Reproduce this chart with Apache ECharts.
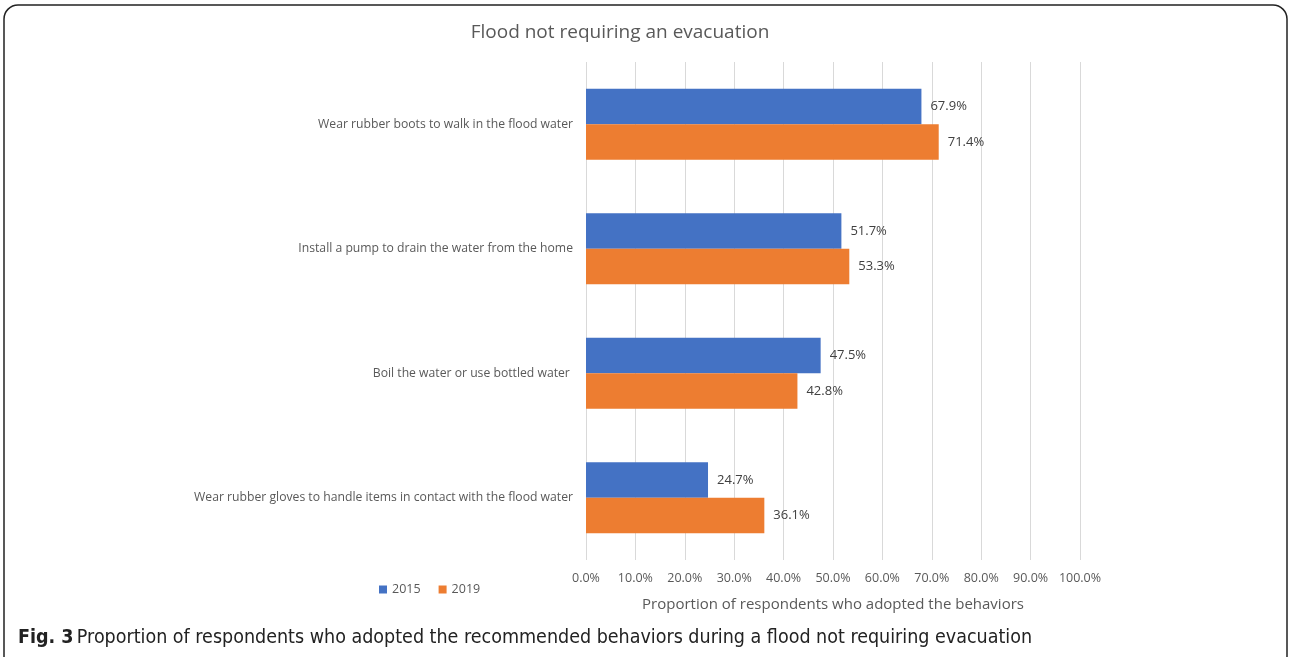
<!DOCTYPE html>
<html><head><meta charset="utf-8">
<script src="https://cdn.jsdelivr.net/npm/echarts@6/dist/echarts.min.js"></script>
<style>html,body{margin:0;padding:0;background:#fff;}#c{width:1290px;height:657px;}</style>
</head><body><div id="c"></div>
<script>
const categories = [
  "Wear rubber boots to walk in the flood water",
  "Install a pump to drain the water from the home",
  "Boil the water or use bottled water ",
  "Wear rubber gloves to handle items in contact with the flood water"
];
const values2015 = [67.9, 51.7, 47.5, 24.7];
const values2019 = [71.4, 53.3, 42.8, 36.1];
const xTicks = [0, 10, 20, 30, 40, 50, 60, 70, 80, 90, 100];

const chart = echarts.init(document.getElementById('c'));
const labelStyle = {show: true, position: 'right', distance: 9, color: '#404040', fontSize: 13,
  fontFamily: 'Open Sans', formatter: p => p.value.toFixed(1) + '%'};
chart.setOption({
  animation: false,
  title: {text: 'Flood not requiring an evacuation', left: 615, top: 18, textAlign: 'center',
    textStyle: {fontSize: 19, fontWeight: 'normal', color: '#595959', fontFamily: 'Open Sans'}},
  legend: {left: 374, top: 578, itemWidth: 8, itemHeight: 8, itemGap: 18,
    textStyle: {fontSize: 12.5, color: '#595959', fontFamily: 'Open Sans'},
    data: [{name: '2015', icon: 'rect'}, {name: '2019', icon: 'rect'}]},
  grid: {left: 586, right: 1290 - 1080, top: 62, bottom: 657 - 560, containLabel: false},
  xAxis: {type: 'value', min: 0, max: 100, interval: 10,
    axisLabel: {formatter: v => v.toFixed(1) + '%', color: '#595959', fontSize: 12.5, fontFamily: 'Open Sans', margin: 12},
    axisLine: {show: false}, axisTick: {show: false},
    splitLine: {lineStyle: {color: '#d9d9d9', width: 1}},
    name: 'Proportion of respondents who adopted the behaviors', nameLocation: 'middle', nameGap: 37,
    nameTextStyle: {fontSize: 15, color: '#595959', fontFamily: 'Open Sans'}},
  yAxis: {type: 'category', data: categories, inverse: true,
    axisLine: {show: false}, axisTick: {show: false},
    axisLabel: {color: '#595959', fontSize: 12.2, fontFamily: 'Open Sans', margin: 13}},
  series: [
    {name: '2015', type: 'bar', data: values2015, barWidth: 35.5, barGap: '0%',
      itemStyle: {color: '#4472C4'}, label: labelStyle},
    {name: '2019', type: 'bar', data: values2019, barWidth: 35.5, barGap: '0%',
      itemStyle: {color: '#ED7D31'}, label: labelStyle}
  ],
  graphic: [
    {type: 'rect', shape: {x: 4, y: 5, width: 1283, height: 665, r: 14}, silent: true,
      style: {fill: 'none', stroke: '#222', lineWidth: 1.5}},
    {type: 'text', left: 18, top: 628, style: {rich: {b: {fontWeight: 'bold', fontSize: 19.5, fill: '#222', fontFamily: 'DejaVu Sans Condensed'},
      n: {fontSize: 19.5, fill: '#222', fontFamily: 'DejaVu Sans Condensed'}},
      text: '{b|Fig. 3} {n|Proportion of respondents who adopted the recommended behaviors during a flood not requiring evacuation}'}}
  ]
});
</script></body></html>
